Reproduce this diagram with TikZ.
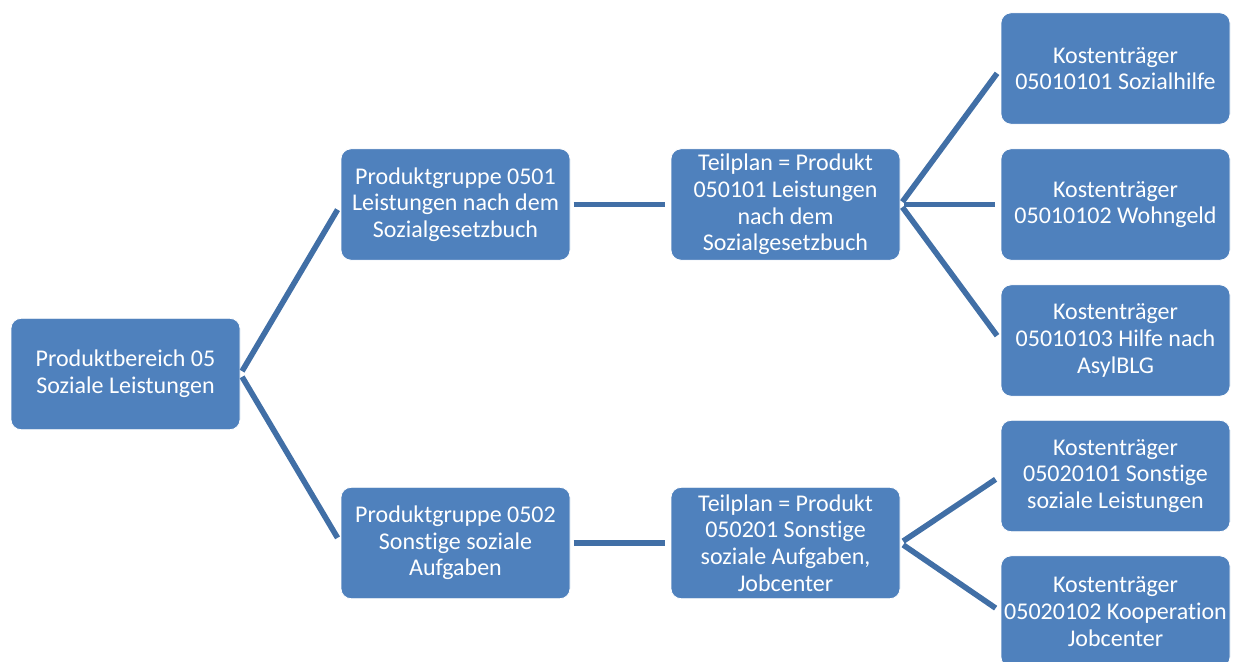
\documentclass[tikz,border=0pt]{standalone}
\usepackage{fontspec}
\setmainfont{Carlito}[Ligatures=NoCommon]
\definecolor{boxblue}{HTML}{4F81BD}
\definecolor{lineblue}{HTML}{416FA6}
\tikzset{
  box/.style={rectangle, rounded corners=7.5pt, fill=boxblue, draw=white, line width=0.6pt,
    text=white, minimum width=171.75pt, minimum height=83.5pt,
    align=center, inner sep=0pt, font=\fontsize{18}{20}\selectfont},
  link/.style={lineblue, line width=4.2pt, shorten <=2.5pt, shorten >=4.5pt}
}
\begin{document}
\begin{tikzpicture}[x=0.75pt,y=-0.75pt]
\useasboundingbox (0,0) rectangle (1234,661);
\clip (0,0) rectangle (1234,661);

% Produktbereich
\node[box] (pb) at (125.5,374) {Produktbereich 05\\Soziale Leistungen};

% Produktgruppen
\node[box] (pg1) at (455.5,204.5) {Produktgruppe 0501\\Leistungen nach dem\\Sozialgesetzbuch};
\node[box] (pg2) at (455.5,543) {Produktgruppe 0502\\Sonstige soziale\\Aufgaben};

% Teilplaene
\node[box] (tp1) at (785.5,204.5) {Teilplan = Produkt\\050101 Leistungen\\nach dem\\Sozialgesetzbuch};
\node[box] (tp2) at (785.5,543) {Teilplan = Produkt\\050201 Sonstige\\soziale Aufgaben,\\Jobcenter};

% Kostentraeger
\foreach \n/\y/\t in {a/68.5/{05010101 Sozialhilfe},
                      b/204.5/{05010102 Wohngeld},
                      c/340.5/{05010103 Hilfe nach\\AsylBLG},
                      d/476/{05020101 Sonstige\\soziale Leistungen},
                      e/611.5/{05020102 Kooperation\\Jobcenter}}
    \node[box] (kt\n) at (1115.5,\y) {Kostenträger\\\t};

% Verbindungen
\draw[link] (pb.east)--(pg1.west);
\draw[link] (pb.east)--(pg2.west);
\draw[link] (pg1.east)--(tp1.west);
\draw[link] (pg2.east)--(tp2.west);
\foreach \n in {a,b,c} \draw[link] (tp1.east)--(kt\n.west);
\foreach \n in {d,e} \draw[link] (tp2.east)--(kt\n.west);
\end{tikzpicture}
\end{document}
